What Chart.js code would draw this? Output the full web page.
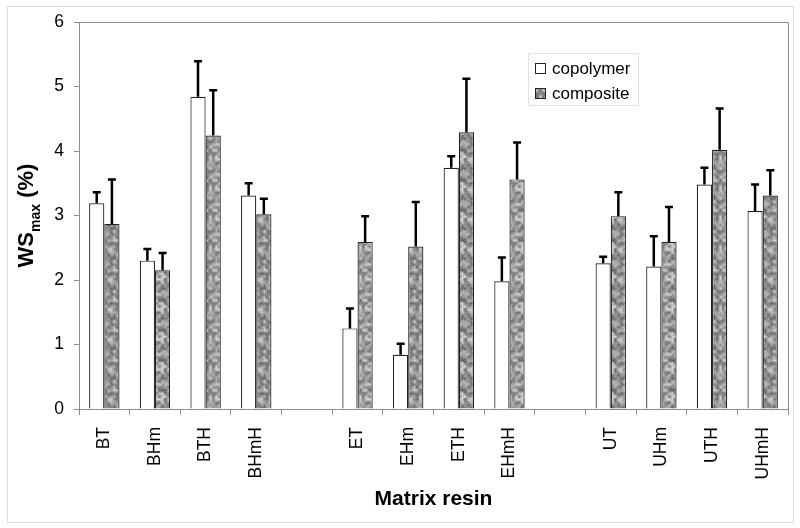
<!DOCTYPE html>
<html>
<head>
<meta charset="utf-8">
<script src="https://cdn.jsdelivr.net/npm/chart.js@4/dist/chart.umd.min.js"></script>
<style>
  html, body { margin: 0; padding: 0; background: #fff; }
  canvas { display: block; }
</style>
</head>
<body>
<canvas id="wsChart" width="800" height="528"></canvas>
<script>
// WSmax of copolymers and composites per matrix resin
const categories = ['BT', 'BHm', 'BTH', 'BHmH', '', 'ET', 'EHm', 'ETH', 'EHmH', '', 'UT', 'UHm', 'UTH', 'UHmH'];
const copolymer    = [3.19, 2.30, 4.84, 3.31, null, 1.25, 0.84, 3.74, 1.98, null, 2.26, 2.21, 3.48, 3.07];
const copolymerErr = [0.17, 0.18, 0.55, 0.19, null, 0.31, 0.17, 0.18, 0.37, null, 0.10, 0.47, 0.26, 0.41];
const composite    = [2.87, 2.15, 4.24, 3.02, null, 2.59, 2.52, 4.29, 3.56, null, 2.99, 2.59, 4.02, 3.31];
const compositeErr = [0.69, 0.27, 0.70, 0.24, null, 0.40, 0.69, 0.83, 0.57, null, 0.37, 0.54, 0.64, 0.39];
const yTicks = [0, 1, 2, 3, 4, 5, 6];

const FONT = '"Liberation Sans", Arial, sans-serif';

// grey mottled fill like the original
function makeTexture() {
    const size = 30, cell = 3, n = size / cell;
    const c = document.createElement('canvas');
    c.width = size; c.height = size;
    const g = c.getContext('2d');
    let seed = 12345;
    const rnd = () => (seed = (seed * 16807) % 2147483647) / 2147483647;
    const grid = [];
    for (let i = 0; i < n * n; i++) grid.push(rnd());
    const at = (i, j) => grid[((j + n) % n) * n + ((i + n) % n)];
    const img = g.createImageData(size, size);
    for (let y = 0; y < size; y++) {
        for (let x = 0; x < size; x++) {
            const gx = x / cell, gy = y / cell;
            const i = Math.floor(gx), j = Math.floor(gy);
            const fx = gx - i, fy = gy - j;
            const v = at(i, j) * (1 - fx) * (1 - fy) + at(i + 1, j) * fx * (1 - fy) +
                      at(i, j + 1) * (1 - fx) * fy + at(i + 1, j + 1) * fx * fy;
            const val = Math.round(80 + (v * 0.8 + rnd() * 0.2) * 150);
            const k = (y * size + x) * 4;
            img.data[k] = img.data[k + 1] = img.data[k + 2] = val;
            img.data[k + 3] = 255;
        }
    }
    g.putImageData(img, 0, 0);
    return g.createPattern(c, 'repeat');
}

const ctx = document.getElementById('wsChart').getContext('2d');
const texture = makeTexture();

const errorBars = {
    id: 'errorBars',
    afterDatasetsDraw(chart) {
        const c = chart.ctx, y = chart.scales.y;
        c.save();
        c.strokeStyle = '#000';
        c.lineWidth = 2.5;
        chart.data.datasets.forEach((ds, di) => {
            const meta = chart.getDatasetMeta(di);
            meta.data.forEach((bar, i) => {
                const v = ds.data[i], e = ds.errors[i];
                if (v == null || e == null) return;
                const top = y.getPixelForValue(v + e);
                c.beginPath();
                c.moveTo(bar.x, bar.y);
                c.lineTo(bar.x, top);
                c.moveTo(bar.x - 4, top);
                c.lineTo(bar.x + 4, top);
                c.stroke();
            });
        });
        c.restore();
    }
};

const decorations = {
    id: 'decorations',
    beforeDraw(chart) {
        const c = chart.ctx;
        c.save();
        c.fillStyle = '#fff';
        c.fillRect(0, 0, chart.width, chart.height);
        c.strokeStyle = '#dcdcdc';
        c.lineWidth = 1;
        c.strokeRect(7.5, 6.5, 786, 516);
        c.restore();
    },
    afterDraw(chart) {
        const c = chart.ctx, a = chart.chartArea;
        c.save();
        // plot frame top and right
        c.strokeStyle = '#8c8c8c';
        c.lineWidth = 1;
        c.beginPath();
        c.moveTo(a.left, a.top + 0.5);
        c.lineTo(a.right + 0.5, a.top + 0.5);
        c.lineTo(a.right + 0.5, a.bottom);
        c.stroke();

        // y axis title with subscript
        c.fillStyle = '#000';
        c.textBaseline = 'alphabetic';
        c.textAlign = 'left';
        const big = 'bold 22px ' + FONT, small = 'bold 14px ' + FONT;
        c.font = big;
        const w1 = c.measureText('WS').width, w3 = c.measureText(' (%)').width;
        c.font = small;
        const w2 = c.measureText('max').width;
        c.translate(33, (a.top + a.bottom) / 2);
        c.rotate(-Math.PI / 2);
        let x0 = -(w1 + w2 + w3) / 2;
        c.font = big; c.fillText('WS', x0, 0);
        c.font = small; c.fillText('max', x0 + w1, 7);
        c.font = big; c.fillText(' (%)', x0 + w1 + w2, 0);
        c.setTransform(1, 0, 0, 1, 0, 0);

        // x axis title
        c.font = 'bold 21px ' + FONT;
        c.textAlign = 'center';
        c.textBaseline = 'middle';
        c.fillText('Matrix resin', (a.left + a.right) / 2, 499);

        // legend
        c.strokeStyle = '#e2e2e2';
        c.strokeRect(528.5, 53.5, 110, 52);
        const items = [['copolymer', '#fff'], ['composite', texture]];
        c.font = '17px ' + FONT;
        c.textAlign = 'left';
        c.textBaseline = 'alphabetic';
        items.forEach((it, i) => {
            const yy = 63 + i * 25;
            c.fillStyle = it[1];
            c.fillRect(535, yy, 10, 10);
            c.strokeStyle = '#222';
            c.strokeRect(535.5, yy + 0.5, 10, 10);
            c.fillStyle = '#000';
            c.fillText(it[0], 552, yy + 11);
        });
        c.restore();
    }
};

new Chart(ctx, {
    type: 'bar',
    data: {
        labels: categories,
        datasets: [{
            label: 'copolymer',
            data: copolymer,
            errors: copolymerErr,
            backgroundColor: '#fff',
            borderColor: '#222',
            borderWidth: 1.2
        }, {
            label: 'composite',
            data: composite,
            errors: compositeErr,
            backgroundColor: texture,
            borderColor: '#222',
            borderWidth: 1.2
        }]
    },
    options: {
        responsive: false,
        animation: false,
        layout: { padding: { top: 22, right: 12, left: 0, bottom: 0 } },
        datasets: { bar: { categoryPercentage: 0.6, barPercentage: 1.0 } },
        plugins: {
            legend: { display: false },
            tooltip: { enabled: false }
        },
        scales: {
            x: {
                afterFit: s => { s.height = 119; },
                grid: { drawOnChartArea: false, offset: true, tickLength: 6, color: '#8c8c8c' },
                border: { color: '#8c8c8c' },
                ticks: {
                    autoSkip: false, minRotation: 90, maxRotation: 90, padding: 12,
                    color: '#000', font: { family: FONT, size: 17.5 }
                }
            },
            y: {
                min: 0, max: 6,
                afterFit: s => { s.width = 79; },
                afterBuildTicks: s => { s.ticks = yTicks.map(v => ({ value: v })); },
                grid: { drawOnChartArea: false, tickLength: 5, color: '#8c8c8c' },
                border: { color: '#8c8c8c' },
                ticks: {
                    padding: 10, color: '#000', font: { family: FONT, size: 17.5 }
                }
            }
        }
    },
    plugins: [decorations, errorBars]
});
</script>
</body>
</html>
